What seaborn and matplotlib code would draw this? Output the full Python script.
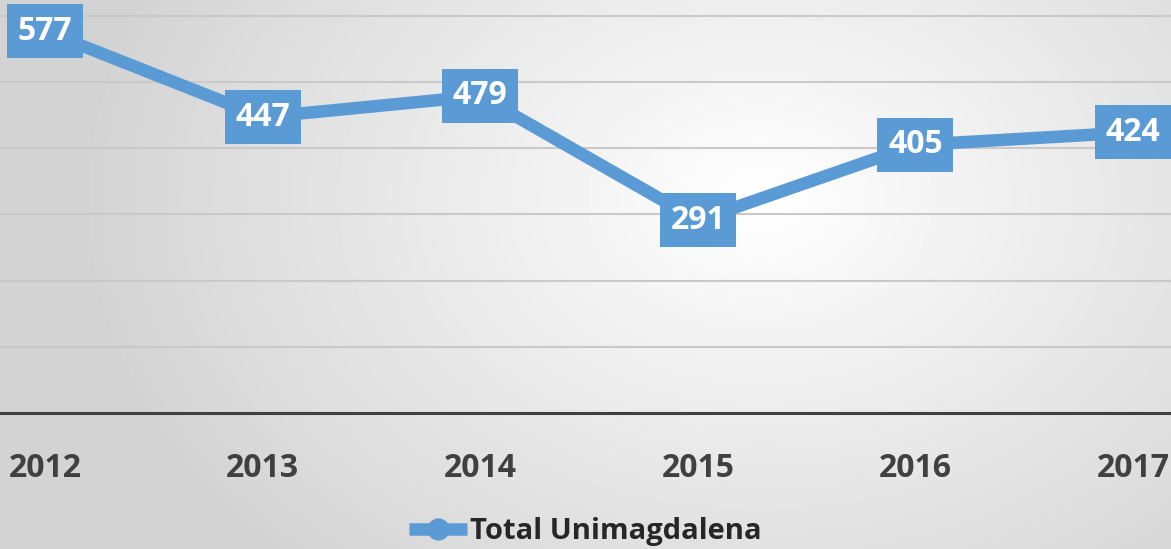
import numpy as np
import pandas as pd
import seaborn as sns
import matplotlib
matplotlib.use("Agg")
import matplotlib.pyplot as plt

years = ["2012", "2013", "2014", "2015", "2016", "2017"]
totals = [577, 447, 479, 291, 405, 424]
series_name = "Total Unimagdalena"

BLUE = "#5b9bd5"
GREY_TEXT = "#404040"

sns.set_style("white")
plt.rcParams["font.family"] = ["Open Sans", "DejaVu Sans"]

df = pd.DataFrame({"year": years, "total": totals, "serie": series_name})
df["pos"] = np.arange(len(df))

fig = plt.figure(figsize=(11.71, 5.49), dpi=100)

# grey-to-white radial backdrop (office chart look)
bg = fig.add_axes([0, 0, 1, 1], zorder=-10)
yy, xx = np.mgrid[0:549, 0:1171]
dist = np.hypot((xx - 760) / 680, (yy - 200) / 500)
shade = 1.0 - 0.17 * np.clip(dist, 0, 1)
bg.imshow(shade, cmap="gray", vmin=0, vmax=1, aspect="auto", interpolation="bilinear")
bg.axis("off")

ax = fig.add_axes([0, 136 / 549, 1, 413 / 549])
ax.set_facecolor("none")
sns.lineplot(data=df, x="pos", y="total", hue="serie", palette=[BLUE],
             marker="o", markersize=16, markeredgewidth=0, linewidth=9,
             solid_capstyle="butt", ax=ax)

# value labels in filled boxes
for x, v in zip(df["pos"], df["total"]):
    ax.text(x, v, str(v), ha="center", va="center", color="white",
            fontsize=23, fontweight="bold", clip_on=False, zorder=5,
            bbox=dict(boxstyle="square,pad=0.33", fc=BLUE, ec="none"))

ax.set_xlim(-0.207, 5.175)
ax.set_ylim(0, 624)
ax.set_yticks(range(0, 700, 100))
ax.yaxis.grid(True, color="#c9c9c9", linewidth=1.5)
ax.tick_params(axis="y", left=False, labelleft=False)
ax.set_xticks(df["pos"])
ax.set_xticklabels(years, fontsize=23, fontweight="bold", color=GREY_TEXT)
ax.tick_params(axis="x", length=0, pad=28)
ax.set(xlabel="", ylabel="")
sns.despine(ax=ax, left=True)
ax.spines["bottom"].set_color(GREY_TEXT)
ax.spines["bottom"].set_linewidth(2.2)

h, l = ax.get_legend_handles_labels()
ax.legend_.remove()
fig.legend(h, l, loc="center", bbox_to_anchor=(0.5, 0.032), frameon=False,
           prop=dict(weight="bold", size=21), handlelength=2, handletextpad=0.1)

plt.savefig("out.png", dpi=100)
